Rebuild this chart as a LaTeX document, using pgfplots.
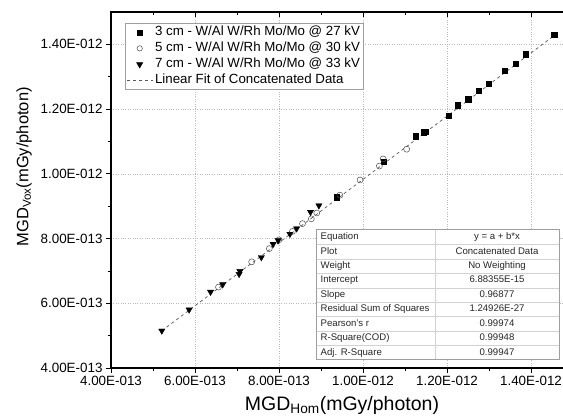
\documentclass[border=0pt]{standalone}
\usepackage{pgfplots}
\pgfplotsset{compat=1.18}
\usepackage{fontspec}
\setmainfont{Liberation Sans}
\pgfplotsset{
  marklegend/.style={legend image code/.code={\path (0pt,-2pt) (26pt,2pt); \draw[##1] plot coordinates {(13pt,0pt)};}},
  linelegend/.style={legend image code/.code={\path (0pt,-2pt) (26pt,2pt); \draw[##1] (0pt,0pt) -- (26pt,0pt);}},
}
\begin{document}
\begin{tikzpicture}[x=1pt,y=1pt]
\begin{axis}[
  at={(0,0)}, anchor=south west,
  scale only axis, width=462pt, height=356pt,
  xmin=0.4e-12, xmax=1.5e-12, ymin=0.4e-12, ymax=1.5e-12,
  xtick={4e-13,6e-13,8e-13,1e-12,1.2e-12,1.4e-12},
  xticklabels={4.00E-013,6.00E-013,8.00E-013,1.00E-012,1.20E-012,1.40E-012},
  minor xtick={5e-13,7e-13,9e-13,1.1e-12,1.3e-12},
  ytick={4e-13,6e-13,8e-13,1e-12,1.2e-12,1.4e-12},
  yticklabels={4.00E-013,6.00E-013,8.00E-013,1.00E-012,1.20E-012,1.40E-012},
  minor ytick={5e-13,7e-13,9e-13,1.1e-12,1.3e-12},
  scaled ticks=false,
  xtick pos=left, ytick pos=left, tick align=outside,
  major tick length=5pt, minor tick length=3pt,
  every tick/.style={black, line width=0.8pt},
  axis line style={line width=1.1pt},
  grid=major, major grid style={dotted, gray!55, line width=0.6pt},
  ticklabel style={font=\fontsize{13.4}{15}\selectfont},
  xlabel={MGD\textsubscript{Hom}(mGy/photon)},
  ylabel={MGD\textsubscript{Vox}(mGy/photon)},
  xlabel style={font=\fontsize{19.5}{22}\selectfont, at={(axis description cs:0.5,-0.104)}, anchor=center},
  ylabel style={font=\fontsize{16.5}{19}\selectfont, at={(axis description cs:-0.188,0.565)}, anchor=center},
  legend cell align=left,
  legend style={at={(axis description cs:0.0303,0.969)}, anchor=north west,
    draw=gray!75, line width=0.7pt, inner xsep=1pt, inner ysep=1pt,
    font=\fontsize{13.3}{15}\selectfont,
    nodes={inner ysep=1pt, inner xsep=2pt, text height=10.5pt, text depth=3.5pt},
    /tikz/every even column/.append style={column sep=6.5pt}},
]
\addplot[forget plot, gray!70!black, line width=0.7pt, dash pattern=on 3pt off 3pt] coordinates {
 (0.521e-12,0.515e-12) (1.460e-12,1.432e-12)};
\addplot[forget plot, only marks, mark=square*, mark size=2.7pt, mark options={fill=black, draw=black}] coordinates {
 (1.455e-12,1.429e-12) (1.388e-12,1.370e-12) (1.363e-12,1.340e-12) (1.337e-12,1.319e-12)
 (1.299e-12,1.279e-12) (1.275e-12,1.256e-12) (1.250e-12,1.231e-12) (1.225e-12,1.212e-12)
 (1.204e-12,1.179e-12) (1.150e-12,1.130e-12) (1.145e-12,1.128e-12) (1.126e-12,1.116e-12)
 (1.050e-12,1.037e-12) (0.937e-12,0.928e-12)};
\addplot[forget plot, only marks, mark=o, mark size=3pt, mark options={draw=black!70, line width=0.5pt}] coordinates {
 (1.104e-12,1.076e-12) (1.048e-12,1.046e-12) (1.039e-12,1.024e-12) (0.993e-12,0.981e-12)
 (0.945e-12,0.934e-12) (0.890e-12,0.879e-12) (0.877e-12,0.861e-12) (0.856e-12,0.846e-12)
 (0.832e-12,0.822e-12) (0.800e-12,0.796e-12) (0.777e-12,0.769e-12) (0.735e-12,0.728e-12)
 (0.656e-12,0.650e-12)};
\addplot[forget plot, only marks, mark=triangle*, mark size=3.6pt, mark options={rotate=180, fill=black, draw=black}] coordinates {
 (0.895e-12,0.902e-12) (0.875e-12,0.882e-12) (0.842e-12,0.831e-12) (0.826e-12,0.814e-12)
 (0.798e-12,0.794e-12) (0.786e-12,0.783e-12) (0.758e-12,0.742e-12) (0.707e-12,0.699e-12)
 (0.705e-12,0.690e-12) (0.666e-12,0.658e-12) (0.637e-12,0.635e-12) (0.586e-12,0.580e-12)
 (0.521e-12,0.515e-12)};
\addlegendimage{marklegend, draw=none, mark=square*, mark size=2.5pt, mark options={fill=black, draw=black}}
\addlegendimage{marklegend, draw=none, mark=o, mark size=2.7pt, mark options={draw=black!70, line width=0.5pt}}
\addlegendimage{marklegend, draw=none, mark=triangle*, mark size=3.4pt, mark options={rotate=180, fill=black, draw=black}}
\addlegendimage{linelegend, gray!70!black, line width=0.7pt, dash pattern=on 3pt off 3pt}
\legend{3 cm - W/Al W/Rh Mo/Mo @ 27 kV, 5 cm - W/Al W/Rh Mo/Mo @ 30 kV, 7 cm - W/Al W/Rh Mo/Mo @ 33 kV, Linear Fit of Concatenated Data}
\end{axis}
\begin{axis}[
  at={(0,0)}, anchor=south west,
  scale only axis, width=462pt, height=356pt,
  xmin=0.4e-12, xmax=1.5e-12, ymin=0.4e-12, ymax=1.5e-12,
  scaled ticks=false,
  xtick={4e-13,6e-13,8e-13,1e-12,1.2e-12,1.4e-12},
  minor xtick={5e-13,7e-13,9e-13,1.1e-12,1.3e-12},
  xticklabels={}, ytick=\empty,
  xtick pos=right, xticklabel pos=left, tick align=inside,
  major tick length=5pt, minor tick length=3pt,
  every tick/.style={black, line width=0.8pt},
  axis line style={draw=none},
]
\end{axis}
% statistics table
\fill[white] (205.7,8) rectangle (448,138);
\foreach \k in {1,...,8} {\draw[gray!35, line width=0.5pt] (205.7,{8+\k*14.444}) -- (448,{8+\k*14.444});}
\draw[gray!35, line width=0.5pt] (324,8) -- (324,138);
\draw[gray!75, line width=1pt] (205.7,8) rectangle (448,138);
\foreach \a/\b [count=\i from 0] in {Equation/y = a + b*x, Plot/Concatenated Data, Weight/No Weighting, Intercept/6.88355E-15, Slope/0.96877, Residual Sum of Squares/1.24926E-27, Pearson's r/0.99974, R-Square(COD)/0.99948, Adj. R-Square/0.99947} {
  \node[anchor=west, inner sep=0pt, font=\fontsize{9.6}{11}\selectfont, text=black!85, text height=6.9pt, text depth=2pt] at (209.5,{138-(\i+0.5)*14.444}) {\a};
  \node[anchor=center, inner sep=0pt, font=\fontsize{9.6}{11}\selectfont, text=black!85, text height=6.9pt, text depth=2pt] at (386,{138-(\i+0.5)*14.444}) {\b};
}
\pgfresetboundingbox
\useasboundingbox (-111,-49) rectangle (452,368);
\end{tikzpicture}
\end{document}
